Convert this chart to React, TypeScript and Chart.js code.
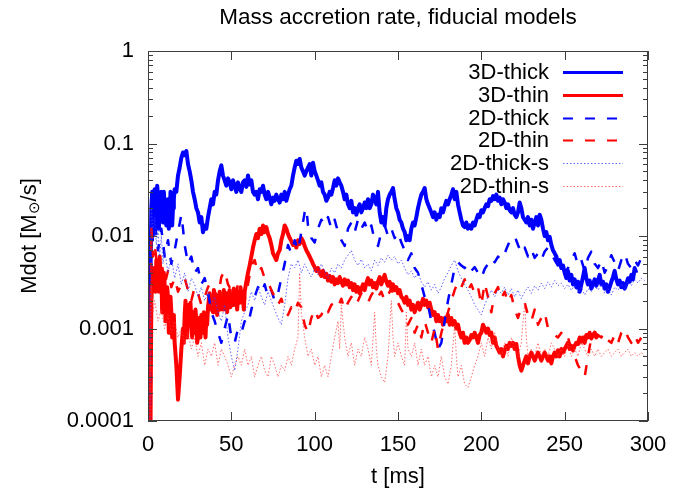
import React, { useEffect, useRef } from "react";
import { Chart, registerables } from "chart.js";

Chart.register(...registerables);

const TITLE = "Mass accretion rate, fiducial models";
const X_TITLE = "t [ms]";
const Y_TITLE_PARTS = ["Mdot [M", "\u2299", "/s]"];
const X_TICKS = [0, 50, 100, 150, 200, 250, 300];
const Y_TICK_VALUES = [0.0001, 0.001, 0.01, 0.1, 1];
const Y_TICK_LABELS = ["0.0001", "0.001", "0.01", "0.1", "1"];
const SERIES_NAMES = ["3D-thick", "3D-thin", "2D-thick", "2D-thin", "2D-thick-s", "2D-thin-s"];

// [t (ms), Mdot (Msun/s)]
const thick3D: [number, number][] = [
  [0, 0.00005], [1, 0.00008], [1.5, 0.004], [2, 0.02], [2.5, 0.03], [3, 0.012], [3.5, 0.025], [4, 0.032], [4.5, 0.012], [5, 0.015],
  [5.5, 0.035], [6, 0.028], [6.5, 0.012], [7, 0.018], [7.5, 0.025], [8, 0.03], [8.5, 0.02], [9, 0.014], [9.5, 0.03], [10, 0.022],
  [10.5, 0.018], [11, 0.013], [11.5, 0.016], [12, 0.025], [12.5, 0.012], [13, 0.015], [13.5, 0.03], [14, 0.028], [14.5, 0.013], [15, 0.02],
  [15.5, 0.025], [16, 0.032], [17, 0.03], [18, 0.045],
  [19, 0.055], [20, 0.07], [21, 0.08], [22, 0.075], [23, 0.083], [24, 0.06], [25, 0.05], [26, 0.04], [27, 0.03], [28, 0.025],
  [29, 0.02], [30, 0.018], [31, 0.014], [32, 0.016], [33, 0.011], [34, 0.013], [35, 0.012], [36, 0.016], [37, 0.02], [38, 0.025],
  [39, 0.022], [40, 0.03], [41, 0.028], [42, 0.04], [43, 0.05], [44, 0.058], [45, 0.045], [46, 0.04], [47, 0.035], [48, 0.042],
  [49, 0.038], [50, 0.032], [51, 0.04], [52, 0.035], [53, 0.03], [54, 0.038], [55, 0.033], [56, 0.03], [57, 0.038], [58, 0.04],
  [59, 0.034], [60, 0.045], [61, 0.036], [62, 0.04], [63, 0.03], [64, 0.028], [65, 0.03], [66, 0.025], [67, 0.032], [68, 0.03],
  [69, 0.035], [70, 0.028], [71, 0.025], [72, 0.03], [73, 0.026], [74, 0.022], [75, 0.026], [76, 0.024], [77, 0.028], [78, 0.025],
  [79, 0.023], [80, 0.028], [81, 0.025], [82, 0.03], [83, 0.024], [84, 0.028], [85, 0.032], [86, 0.035], [87, 0.045], [88, 0.055],
  [89, 0.065], [90, 0.06], [91, 0.068], [92, 0.055], [93, 0.05], [94, 0.045], [95, 0.05], [96, 0.055], [97, 0.06], [98, 0.045],
  [99, 0.062], [100, 0.05], [101, 0.045], [102, 0.04], [103, 0.035], [104, 0.038], [105, 0.03], [106, 0.028], [107, 0.024], [108, 0.026],
  [109, 0.03], [110, 0.028], [111, 0.033], [112, 0.04], [113, 0.035], [114, 0.042], [115, 0.038], [116, 0.035], [117, 0.03], [118, 0.025],
  [119, 0.028], [120, 0.022], [121, 0.02], [122, 0.024], [123, 0.018], [124, 0.02], [125, 0.017], [126, 0.02], [127, 0.022], [128, 0.018],
  [129, 0.02], [130, 0.023], [131, 0.02], [132, 0.025], [133, 0.02], [134, 0.022], [135, 0.028], [136, 0.025], [137, 0.022], [138, 0.03],
  [139, 0.018], [140, 0.014], [141, 0.016], [142, 0.013], [143, 0.02], [144, 0.025], [145, 0.028], [146, 0.03], [147, 0.033], [148, 0.025],
  [149, 0.02], [150, 0.018], [151, 0.015], [152, 0.014], [153, 0.012], [154, 0.011], [155, 0.009], [156, 0.01], [157, 0.009], [158, 0.012],
  [159, 0.014], [160, 0.013], [161, 0.016], [162, 0.02], [163, 0.024], [164, 0.028], [165, 0.03], [166, 0.033], [167, 0.025], [168, 0.022],
  [169, 0.02], [170, 0.018], [171, 0.016], [172, 0.018], [173, 0.015], [174, 0.017], [175, 0.016], [176, 0.02], [177, 0.018], [178, 0.021],
  [179, 0.024], [180, 0.022], [181, 0.025], [182, 0.028], [183, 0.032], [184, 0.025], [185, 0.03], [186, 0.022], [187, 0.018], [188, 0.015],
  [189, 0.013], [190, 0.0125], [191, 0.014], [192, 0.012], [193, 0.013], [194, 0.012], [195, 0.014], [196, 0.013], [197, 0.015], [198, 0.017],
  [199, 0.016], [200, 0.019], [201, 0.018], [202, 0.02], [203, 0.022], [204, 0.021], [205, 0.025], [206, 0.024], [207, 0.027], [208, 0.025],
  [209, 0.028], [210, 0.024], [211, 0.026], [212, 0.022], [213, 0.025], [214, 0.023], [215, 0.02], [216, 0.022], [217, 0.019], [218, 0.018],
  [219, 0.02], [220, 0.017], [221, 0.016], [222, 0.018], [223, 0.023], [224, 0.02], [225, 0.016], [226, 0.015], [227, 0.014], [228, 0.016],
  [229, 0.013], [230, 0.015], [231, 0.012], [232, 0.014], [233, 0.016], [234, 0.013], [235, 0.017], [236, 0.015], [237, 0.012], [238, 0.01],
  [239, 0.011], [240, 0.009], [241, 0.0098], [242, 0.008], [243, 0.007], [244, 0.0065], [245, 0.006], [246, 0.005], [247, 0.0055], [248, 0.0045],
  [249, 0.0048], [250, 0.004], [251, 0.0035], [252, 0.0042], [253, 0.0033], [254, 0.0038], [255, 0.003], [256, 0.0034], [257, 0.0028], [258, 0.0032],
  [259, 0.0025], [260, 0.003], [261, 0.0036], [262, 0.0045], [263, 0.0035], [264, 0.003], [265, 0.0033], [266, 0.0027], [267, 0.003], [268, 0.0034],
  [269, 0.0029], [270, 0.0033], [271, 0.0038], [272, 0.003], [273, 0.0032], [274, 0.0027], [275, 0.003], [276, 0.0025], [277, 0.0028], [278, 0.0032],
  [279, 0.0036], [280, 0.0042], [281, 0.0034], [282, 0.003], [283, 0.0033], [284, 0.0028], [285, 0.0031], [286, 0.0027], [287, 0.003], [288, 0.0035],
  [289, 0.0032], [290, 0.0038], [291, 0.0034], [292, 0.0045], [293, 0.004],
];

const thin3D: [number, number][] = [
  [0, 0.00005], [1.5, 0.00008], [2, 0.002], [3, 0.0045], [4, 0.003], [4.5, 0.0025], [5, 0.0055], [5.5, 0.003], [6, 0.0045], [6.5, 0.0025],
  [7, 0.006], [7.5, 0.0035], [8, 0.004], [8.5, 0.0015], [9, 0.0025], [9.5, 0.004], [10, 0.003], [10.5, 0.0012], [11, 0.0018], [11.5, 0.0028],
  [12, 0.0022], [12.5, 0.0009], [13, 0.0012], [13.5, 0.0022], [14, 0.0015], [14.5, 0.0008], [15, 0.001], [15.5, 0.0014], [16, 0.0007], [17, 0.0004],
  [18, 0.00017], [19, 0.0003], [20, 0.0006], [21, 0.001], [21.5, 0.0007], [22, 0.0014], [22.5, 0.002], [23, 0.0012], [23.5, 0.0008], [24, 0.0018],
  [24.5, 0.0011], [25, 0.0013], [25.5, 0.0019], [26, 0.0011], [26.5, 0.0008], [27, 0.0015], [27.5, 0.0013], [28, 0.0009], [28.5, 0.0016], [29, 0.0012],
  [29.5, 0.0007], [30, 0.0008], [30.5, 0.0013], [31, 0.001], [31.5, 0.0008], [32, 0.0014], [32.5, 0.0011], [33, 0.0009], [33.5, 0.0015], [34, 0.0011],
  [34.5, 0.0008], [35, 0.0013], [35.5, 0.0011], [36, 0.0017], [37, 0.0024], [37.5, 0.0016], [38, 0.002], [39, 0.0015], [39.5, 0.0026], [40, 0.0018],
  [41, 0.0022], [41.5, 0.0014], [42, 0.0019], [43, 0.0025], [43.5, 0.0016], [44, 0.002], [45, 0.0016], [45.5, 0.0026], [46, 0.0019], [47, 0.0024],
  [47.5, 0.0015], [48, 0.002], [49, 0.0026], [49.5, 0.0017], [50, 0.0022], [51, 0.0018], [51.5, 0.0027], [52, 0.0021], [53, 0.0026], [53.5, 0.0016],
  [54, 0.0022], [55, 0.0019], [55.5, 0.0028], [56, 0.0023], [57, 0.002], [57.5, 0.0016], [58, 0.0025], [59, 0.0032],
  [60, 0.004], [61, 0.0048], [62, 0.006], [63, 0.0075], [64, 0.009], [65, 0.0105], [66, 0.0095], [67, 0.012], [68, 0.0105], [69, 0.013],
  [70, 0.011], [71, 0.0125], [72, 0.0105], [73, 0.0095], [74, 0.008], [75, 0.0065], [76, 0.006], [77, 0.0055], [78, 0.0065], [79, 0.007],
  [80, 0.009], [81, 0.0105], [82, 0.013], [83, 0.012], [84, 0.0105], [85, 0.0095], [86, 0.0088], [87, 0.008], [88, 0.0085], [89, 0.0075],
  [90, 0.009], [91, 0.0082], [92, 0.0095], [93, 0.0088], [94, 0.0078], [95, 0.007], [96, 0.0065], [97, 0.006], [98, 0.0055], [99, 0.005],
  [100, 0.0046], [101, 0.0042], [102, 0.0045], [103, 0.004], [104, 0.0037], [105, 0.0042], [106, 0.0036], [107, 0.0039], [108, 0.0033], [109, 0.0037],
  [110, 0.0032], [111, 0.0036], [112, 0.003], [113, 0.0034], [114, 0.0031], [115, 0.0036], [116, 0.0032], [117, 0.0029], [118, 0.0034], [119, 0.003],
  [120, 0.0033], [121, 0.0028], [122, 0.0031], [123, 0.0026], [124, 0.003], [125, 0.0025], [126, 0.0028], [127, 0.0024], [128, 0.0027], [129, 0.003],
  [130, 0.0026], [131, 0.0031], [132, 0.0035], [133, 0.003], [134, 0.0033], [135, 0.0028], [136, 0.0031], [137, 0.0027], [138, 0.0032], [139, 0.0036],
  [140, 0.003], [141, 0.0034], [142, 0.0038], [143, 0.0032], [144, 0.0029], [145, 0.0032], [146, 0.0027], [147, 0.003], [148, 0.0026], [149, 0.0028],
  [150, 0.0024], [151, 0.0026], [152, 0.0022], [153, 0.0021], [154, 0.0019], [155, 0.0022], [156, 0.0018], [157, 0.002], [158, 0.0016], [159, 0.0018],
  [160, 0.0015], [161, 0.0017], [162, 0.0019], [163, 0.0016], [164, 0.0018], [165, 0.0021], [166, 0.0018], [167, 0.002], [168, 0.0017], [169, 0.0019],
  [170, 0.0016], [171, 0.0014], [172, 0.0015], [173, 0.0012], [174, 0.0014], [175, 0.0012], [176, 0.0013], [177, 0.0011], [178, 0.0013], [179, 0.0012],
  [180, 0.0014], [181, 0.0011], [182, 0.0013], [183, 0.0011], [184, 0.0012], [185, 0.001], [186, 0.0011], [187, 0.0009], [188, 0.0008], [189, 0.0009],
  [190, 0.0007], [191, 0.0008], [192, 0.0007], [193, 0.00075], [194, 0.00085], [195, 0.0008], [196, 0.0009], [197, 0.0008], [198, 0.0007], [199, 0.00085],
  [200, 0.0009], [201, 0.0011], [202, 0.001], [203, 0.0009], [204, 0.001], [205, 0.00085], [206, 0.0009], [207, 0.0007], [208, 0.0008], [209, 0.00065],
  [210, 0.0006], [211, 0.00055], [212, 0.0006], [213, 0.0005], [214, 0.00058], [215, 0.00065], [216, 0.0006], [217, 0.0007], [218, 0.00065], [219, 0.0007],
  [220, 0.0006], [221, 0.00068], [222, 0.0005], [223, 0.0004], [224, 0.00035], [225, 0.0004], [226, 0.00045], [227, 0.0005], [228, 0.00042], [229, 0.0005],
  [230, 0.00055], [231, 0.0005], [232, 0.00045], [233, 0.0005], [234, 0.00055], [235, 0.0005], [236, 0.00045], [237, 0.0005], [238, 0.00055], [239, 0.0005],
  [240, 0.00045], [241, 0.0005], [242, 0.00042], [243, 0.0005], [244, 0.00055], [245, 0.0005], [246, 0.00058], [247, 0.0005], [248, 0.0006], [249, 0.00055],
  [250, 0.0006], [251, 0.00065], [252, 0.0007], [253, 0.0006], [254, 0.00065], [255, 0.00058], [256, 0.00065], [257, 0.0007], [258, 0.00068], [259, 0.0008],
  [260, 0.00072], [261, 0.0008], [262, 0.0007], [263, 0.00085], [264, 0.0008], [265, 0.0009], [266, 0.00078], [267, 0.00085], [268, 0.0009], [269, 0.0008],
  [270, 0.00085],
];

const thick2D: [number, number][] = [
  [1, 0.00005], [2, 0.02], [3, 0.008], [4, 0.015], [6, 0.007], [8, 0.012], [10, 0.006], [12, 0.009], [14, 0.005], [16, 0.007],
  [18, 0.011], [20, 0.017], [21, 0.012], [22, 0.008], [24, 0.005], [26, 0.006], [28, 0.004], [30, 0.0045], [32, 0.003], [34, 0.0035],
  [36, 0.0025], [38, 0.0015], [40, 0.0012], [42, 0.0009], [44, 0.0007], [46, 0.001], [48, 0.0014], [50, 0.0008], [52, 0.0007], [54, 0.001],
  [56, 0.0009], [58, 0.0012], [60, 0.0011], [62, 0.0016], [64, 0.0022], [66, 0.0028], [68, 0.0024], [70, 0.003], [72, 0.0022], [74, 0.0026],
  [76, 0.002], [78, 0.0024], [80, 0.0035], [82, 0.005], [84, 0.008], [86, 0.0065], [88, 0.009], [90, 0.007], [92, 0.011], [94, 0.018],
  [95, 0.02], [96, 0.013], [98, 0.0095], [100, 0.0085], [102, 0.012], [104, 0.015], [106, 0.013], [108, 0.016], [110, 0.012], [112, 0.015],
  [114, 0.011], [116, 0.009], [118, 0.0078], [120, 0.012], [122, 0.014], [124, 0.011], [126, 0.015], [128, 0.012], [130, 0.014], [132, 0.011],
  [134, 0.013], [136, 0.009], [138, 0.0078], [140, 0.011], [142, 0.013], [144, 0.01], [146, 0.012], [148, 0.0095], [150, 0.011], [152, 0.0085],
  [154, 0.007], [156, 0.0055], [158, 0.0065], [160, 0.0045], [162, 0.004], [164, 0.003], [166, 0.0022], [168, 0.0018], [170, 0.0012], [172, 0.0009],
  [174, 0.0006], [176, 0.0007], [178, 0.0012], [180, 0.002], [182, 0.003], [184, 0.0045], [186, 0.0052], [188, 0.0048], [190, 0.0045], [192, 0.005],
  [194, 0.0042], [196, 0.0046], [198, 0.004], [200, 0.0035], [202, 0.0044], [204, 0.005], [206, 0.0058], [208, 0.0052], [210, 0.006], [212, 0.0055],
  [214, 0.0065], [216, 0.008], [218, 0.0095], [220, 0.01], [222, 0.008], [224, 0.0065], [226, 0.0075], [228, 0.006], [230, 0.0072], [232, 0.0058],
  [234, 0.0065], [236, 0.0055], [238, 0.0068], [240, 0.0075], [242, 0.0065], [244, 0.0055], [246, 0.0048], [248, 0.0052], [250, 0.004], [252, 0.0045],
  [254, 0.0055], [256, 0.0065], [258, 0.0048], [260, 0.0055], [262, 0.0042], [264, 0.0058], [266, 0.0068], [268, 0.005], [270, 0.0045], [272, 0.0055],
  [274, 0.004], [276, 0.0048], [278, 0.0062], [280, 0.0052], [282, 0.0042], [284, 0.0055], [286, 0.0065], [288, 0.005], [290, 0.0045], [292, 0.0055],
  [294, 0.0048], [296, 0.0058], [298, 0.0052],
];

const thin2D: [number, number][] = [
  [1, 0.00005], [2, 0.012], [3, 0.006], [4, 0.008], [6, 0.004], [8, 0.0055], [10, 0.003], [12, 0.0042], [14, 0.0028], [16, 0.0035],
  [18, 0.0025], [20, 0.003], [22, 0.0035], [24, 0.0026], [26, 0.002], [28, 0.0028], [30, 0.0024], [32, 0.0018], [34, 0.0022], [36, 0.0028],
  [38, 0.0032], [40, 0.0025], [42, 0.0022], [44, 0.0036], [46, 0.0042], [48, 0.003], [50, 0.0026], [52, 0.0022], [54, 0.003], [56, 0.0025],
  [58, 0.002], [60, 0.003], [62, 0.0048], [64, 0.0055], [66, 0.004], [68, 0.0045], [70, 0.0035], [72, 0.0032], [74, 0.0026], [76, 0.0022],
  [78, 0.0018], [80, 0.0021], [82, 0.0016], [84, 0.0014], [86, 0.0017], [88, 0.0015], [90, 0.0019], [92, 0.0017], [94, 0.0011], [96, 0.0009],
  [98, 0.0013], [100, 0.0016], [102, 0.0013], [104, 0.0014], [106, 0.0017], [108, 0.0015], [110, 0.0018], [112, 0.0019], [114, 0.0017], [116, 0.0021],
  [118, 0.0016], [120, 0.0019], [122, 0.0022], [124, 0.0018], [126, 0.002], [128, 0.0024], [130, 0.0021], [132, 0.0019], [134, 0.0023], [136, 0.0026],
  [138, 0.0022], [140, 0.0025], [142, 0.002], [144, 0.0023], [146, 0.0027], [148, 0.0021], [150, 0.0019], [152, 0.0016], [154, 0.0014], [156, 0.0011],
  [158, 0.0013], [160, 0.0009], [162, 0.0011], [164, 0.0008], [166, 0.0012], [168, 0.0009], [170, 0.0007], [172, 0.001], [174, 0.0006], [176, 0.0009],
  [178, 0.0012], [180, 0.0015], [182, 0.002], [184, 0.0026], [186, 0.0032], [188, 0.0028], [190, 0.0034], [192, 0.0026], [194, 0.003], [196, 0.0024],
  [198, 0.0028], [200, 0.0018], [202, 0.0031], [204, 0.0022], [206, 0.0015], [208, 0.0024], [210, 0.0028], [212, 0.0021], [214, 0.0025], [216, 0.0019],
  [218, 0.0023], [220, 0.0016], [222, 0.0013], [224, 0.0017], [226, 0.0019], [228, 0.0014], [230, 0.0012], [232, 0.0016], [234, 0.0011], [236, 0.0013],
  [238, 0.0015], [240, 0.001], [242, 0.0009], [244, 0.00085], [246, 0.0008], [248, 0.0009], [250, 0.00075], [252, 0.0008], [254, 0.0006], [256, 0.0005],
  [258, 0.0004], [260, 0.00035], [262, 0.0003], [264, 0.0005], [266, 0.0008], [268, 0.0009], [270, 0.00085], [272, 0.0008], [274, 0.0009], [276, 0.00075],
  [278, 0.0007], [280, 0.00085], [282, 0.0007], [284, 0.0009], [286, 0.001], [288, 0.0008], [290, 0.0007], [292, 0.00085], [294, 0.0007], [296, 0.0008],
  [298, 0.00075],
];

const thick2Ds: [number, number][] = [
  [1, 0.00005], [2, 0.02], [3, 0.012], [4, 0.016], [5, 0.008], [6, 0.012], [7, 0.006], [8, 0.01], [9, 0.005], [10, 0.007],
  [12, 0.004], [14, 0.006], [16, 0.0035], [18, 0.005], [20, 0.003], [22, 0.004], [24, 0.0025], [26, 0.0035], [28, 0.003], [30, 0.0022],
  [32, 0.0028], [34, 0.002], [36, 0.0025], [38, 0.0018], [40, 0.0022], [42, 0.0015], [44, 0.0012], [46, 0.0018], [48, 0.0008], [50, 0.0005],
  [52, 0.00035], [54, 0.0006], [56, 0.0012], [58, 0.0015], [60, 0.0018], [62, 0.0025], [64, 0.002], [66, 0.0028], [68, 0.0022], [70, 0.0018],
  [72, 0.0025], [74, 0.002], [76, 0.0016], [78, 0.0013], [80, 0.0011], [82, 0.0018], [84, 0.0035], [86, 0.005], [88, 0.0045], [90, 0.0055],
  [92, 0.004], [94, 0.005], [96, 0.0042], [98, 0.0036], [100, 0.0045], [102, 0.0038], [104, 0.005], [106, 0.0042], [108, 0.0035], [110, 0.0045],
  [112, 0.004], [114, 0.005], [116, 0.0045], [118, 0.0055], [120, 0.0062], [122, 0.007], [124, 0.0055], [126, 0.0048], [128, 0.0056], [130, 0.0045],
  [132, 0.005], [134, 0.0042], [136, 0.0055], [138, 0.0048], [140, 0.0058], [142, 0.0052], [144, 0.0062], [146, 0.0055], [148, 0.006], [150, 0.005],
  [152, 0.0055], [154, 0.0045], [156, 0.0038], [158, 0.0042], [160, 0.0035], [162, 0.004], [164, 0.0032], [166, 0.0028], [168, 0.0032], [170, 0.0026],
  [172, 0.003], [174, 0.0024], [176, 0.0028], [178, 0.0035], [180, 0.004], [182, 0.0048], [184, 0.0055], [186, 0.0042], [188, 0.0035], [190, 0.003],
  [192, 0.0026], [194, 0.0022], [196, 0.0018], [198, 0.0016], [200, 0.0014], [202, 0.0018], [204, 0.0022], [206, 0.0026], [208, 0.0022], [210, 0.0026],
  [212, 0.0024], [214, 0.0028], [216, 0.0023], [218, 0.0027], [220, 0.0022], [222, 0.0026], [224, 0.0021], [226, 0.0025], [228, 0.0028], [230, 0.0024],
  [232, 0.0029], [234, 0.0026], [236, 0.0031], [238, 0.0027], [240, 0.0032], [242, 0.0028], [244, 0.0033], [246, 0.0029], [248, 0.0031], [250, 0.0027],
  [252, 0.003], [254, 0.0026], [256, 0.0029], [258, 0.0024], [260, 0.0028], [262, 0.0023], [264, 0.0027], [266, 0.0025], [268, 0.0029], [270, 0.0026],
  [272, 0.003], [274, 0.0024], [276, 0.0027], [278, 0.0023], [280, 0.0028], [282, 0.0026], [284, 0.003], [286, 0.0027], [288, 0.0032], [290, 0.0029],
  [292, 0.0034], [294, 0.0031], [296, 0.0035], [298, 0.0033],
];

const thin2Ds: [number, number][] = [
  [1, 0.00005], [2, 0.003], [3, 0.0015], [4, 0.002], [6, 0.0012], [8, 0.0016], [10, 0.001], [12, 0.0014], [14, 0.0009], [16, 0.0012],
  [18, 0.0008], [20, 0.001], [22, 0.0007], [24, 0.0009], [26, 0.0006], [28, 0.0008], [30, 0.0005], [32, 0.0007], [34, 0.0004], [36, 0.0006],
  [38, 0.0005], [40, 0.0007], [42, 0.0004], [44, 0.0006], [46, 0.0005], [48, 0.0004], [50, 0.0003], [52, 0.0004], [54, 0.0005], [56, 0.0004],
  [58, 0.0006], [60, 0.0004], [62, 0.0005], [64, 0.0003], [66, 0.0004], [68, 0.0005], [70, 0.00035], [72, 0.0003], [74, 0.0005], [76, 0.0004],
  [78, 0.0003], [80, 0.0004], [82, 0.00035], [84, 0.0005], [86, 0.0004], [88, 0.0006], [90, 0.0008], [91, 0.004], [92, 0.0015], [94, 0.0008],
  [96, 0.0005], [98, 0.0006], [100, 0.0004], [102, 0.0005], [104, 0.0003], [106, 0.0004], [108, 0.0003], [110, 0.0005], [112, 0.0008], [114, 0.0012],
  [115, 0.0006], [116, 0.0018], [118, 0.0008], [120, 0.0005], [122, 0.0007], [124, 0.0004], [126, 0.0006], [128, 0.0005], [130, 0.0008], [132, 0.0006],
  [134, 0.0004], [136, 0.0015], [137, 0.0006], [138, 0.0004], [140, 0.0003], [142, 0.00026], [144, 0.0005], [146, 0.002], [147, 0.0008], [148, 0.0005],
  [150, 0.0007], [152, 0.0005], [154, 0.0004], [155, 0.0015], [156, 0.0006], [158, 0.0005], [160, 0.0007], [162, 0.0004], [164, 0.0006], [166, 0.0004],
  [168, 0.0005], [170, 0.0003], [172, 0.0004], [174, 0.0003], [176, 0.0005], [178, 0.0003], [180, 0.00025], [182, 0.0004], [184, 0.0011], [185, 0.0005],
  [186, 0.0003], [188, 0.0004], [190, 0.00025], [192, 0.00023], [194, 0.0003], [196, 0.0004], [198, 0.0005], [200, 0.0007], [202, 0.0005], [204, 0.0008],
  [206, 0.0006], [208, 0.0009], [210, 0.0006], [212, 0.0005], [214, 0.0007], [216, 0.0005], [218, 0.0008], [220, 0.0006], [222, 0.0005], [224, 0.0007],
  [226, 0.0019], [227, 0.0008], [228, 0.0005], [230, 0.0006], [232, 0.0005], [234, 0.0007], [236, 0.0005], [238, 0.0006], [240, 0.0005], [242, 0.0007],
  [244, 0.0006], [246, 0.0005], [248, 0.0006], [250, 0.0005], [252, 0.0007], [254, 0.0005], [256, 0.0006], [258, 0.0005], [260, 0.0007], [262, 0.0006],
  [264, 0.0005], [266, 0.0006], [268, 0.0005], [270, 0.0006], [272, 0.0005], [274, 0.00055], [276, 0.0006], [278, 0.0005], [280, 0.00055], [282, 0.0006],
  [284, 0.0005], [286, 0.00055], [288, 0.0006], [290, 0.0005], [292, 0.00055], [294, 0.0005], [296, 0.00055], [298, 0.0005],
];

const SERIES_DATA = [thick3D, thin3D, thick2D, thin2D, thick2Ds, thin2Ds];

// styles (kept separate from data)
const STYLES = [
  { color: "#0000ff", width: 4, legendWidth: 3, dash: [] as number[] },
  { color: "#ff0000", width: 4, legendWidth: 3, dash: [] as number[] },
  { color: "#0000ff", width: 2.5, legendWidth: 2, dash: [10, 12] },
  { color: "#ff0000", width: 2.5, legendWidth: 2, dash: [10, 12] },
  { color: "rgba(60,60,255,0.8)", width: 1, legendWidth: 1, dash: [1.5, 2] },
  { color: "rgba(255,60,60,0.75)", width: 1, legendWidth: 1, dash: [1.5, 2] },
];

const FONT = '"Liberation Sans", Arial, Helvetica, sans-serif';
const FONT_SIZE = 22;

const decorPlugin = {
  id: "gnuplotDecor",
  afterDatasetsDraw(chart: any) {
    const { ctx, chartArea: a, scales } = chart;
    const xs = scales.x;
    const ys = scales.y;
    ctx.save();
    // frame
    ctx.strokeStyle = "#3c3c3c";
    ctx.lineWidth = 1;
    ctx.setLineDash([]);
    ctx.strokeRect(Math.round(a.left) + 0.5, Math.round(a.top) + 0.5, Math.round(a.right - a.left) - 1, Math.round(a.bottom - a.top) - 1);
    // y ticks (major + minor) on both sides, inward
    ctx.beginPath();
    for (let e = -4; e <= 0; e++) {
      for (let k = 1; k <= 9; k++) {
        const v = k * Math.pow(10, e);
        if (v > 1.0000001) break;
        const y = Math.round(ys.getPixelForValue(v)) + 0.5;
        const len = k === 1 ? 9 : 5;
        ctx.moveTo(a.left, y);
        ctx.lineTo(a.left + len, y);
        ctx.moveTo(a.right, y);
        ctx.lineTo(a.right - len, y);
      }
    }
    // x ticks top and bottom, inward
    for (const t of X_TICKS) {
      const x = Math.round(xs.getPixelForValue(t)) + 0.5;
      ctx.moveTo(x, a.bottom);
      ctx.lineTo(x, a.bottom - 9);
      ctx.moveTo(x, a.top);
      ctx.lineTo(x, a.top + 9);
    }
    ctx.stroke();

    // legend
    ctx.font = `${FONT_SIZE}px ${FONT}`;
    ctx.fillStyle = "#000";
    ctx.textAlign = "right";
    ctx.textBaseline = "middle";
    const rowY0 = 72;
    const rowDy = 22.8;
    SERIES_NAMES.forEach((name, i) => {
      const y = rowY0 + i * rowDy;
      ctx.fillText(name, 549, y + 1);
      const st = STYLES[i];
      ctx.strokeStyle = st.color;
      ctx.lineWidth = st.legendWidth;
      ctx.setLineDash(st.dash);
      ctx.beginPath();
      ctx.moveTo(563, Math.round(y) + 0.5);
      ctx.lineTo(623, Math.round(y) + 0.5);
      ctx.stroke();
    });
    ctx.setLineDash([]);

    // title
    ctx.textAlign = "center";
    ctx.textBaseline = "middle";
    ctx.font = `${FONT_SIZE + 0.5}px ${FONT}`;
    ctx.fillText(TITLE, (a.left + a.right) / 2, 18);

    // x title
    ctx.font = `${FONT_SIZE}px ${FONT}`;
    ctx.fillText(X_TITLE, (a.left + a.right) / 2, 477);

    // y title with subscript
    ctx.save();
    ctx.translate(30, (a.top + a.bottom) / 2);
    ctx.rotate(-Math.PI / 2);
    ctx.textAlign = "left";
    const mainFont = `${FONT_SIZE}px ${FONT}`;
    const subFont = `${Math.round(FONT_SIZE * 0.7)}px ${FONT}`;
    ctx.font = mainFont;
    const w1 = ctx.measureText(Y_TITLE_PARTS[0]).width;
    const w3 = ctx.measureText(Y_TITLE_PARTS[2]).width;
    ctx.font = subFont;
    const w2 = ctx.measureText(Y_TITLE_PARTS[1]).width;
    const x0 = -(w1 + w2 + w3) / 2;
    ctx.font = mainFont;
    ctx.fillText(Y_TITLE_PARTS[0], x0, 0);
    ctx.font = subFont;
    ctx.fillText(Y_TITLE_PARTS[1], x0 + w1, 5);
    ctx.font = mainFont;
    ctx.fillText(Y_TITLE_PARTS[2], x0 + w1 + w2, 0);
    ctx.restore();

    ctx.restore();
  },
};

export default function App() {
  const canvasRef = useRef<HTMLCanvasElement | null>(null);

  useEffect(() => {
    document.body.style.margin = "0";
    const canvas = canvasRef.current;
    if (!canvas) return;
    const chart = new Chart(canvas, {
      type: "line",
      data: {
        datasets: SERIES_NAMES.map((name, i) => ({
          label: name,
          data: SERIES_DATA[i].map(([x, y]) => ({ x, y })),
          borderColor: STYLES[i].color,
          borderWidth: STYLES[i].width,
          borderDash: STYLES[i].dash,
          borderJoinStyle: "round" as const,
          borderCapStyle: "butt" as const,
          pointRadius: 0,
          tension: 0,
          fill: false,
          order: SERIES_NAMES.length - i,
        })),
      },
      options: {
        animation: false,
        responsive: true,
        maintainAspectRatio: false,
        events: [],
        layout: { padding: { left: 0, right: 46, top: 51, bottom: 0 } },
        plugins: {
          legend: { display: false },
          title: { display: false },
          tooltip: { enabled: false },
        },
        scales: {
          x: {
            type: "linear",
            min: 0,
            max: 300,
            grid: { display: false, drawTicks: false },
            border: { display: false },
            ticks: {
              stepSize: 50,
              padding: 11,
              color: "#000",
              font: { family: FONT, size: FONT_SIZE },
              maxRotation: 0,
              autoSkip: false,
            },
            afterFit: (scale: any) => {
              scale.height = 74;
            },
          },
          y: {
            type: "logarithmic",
            min: 0.0001,
            max: 1,
            grid: { display: false, drawTicks: false },
            border: { display: false },
            afterBuildTicks: (scale: any) => {
              scale.ticks = Y_TICK_VALUES.map((v) => ({ value: v }));
            },
            ticks: {
              padding: 14,
              color: "#000",
              font: { family: FONT, size: FONT_SIZE },
              autoSkip: false,
              callback: (value: any) => {
                const idx = Y_TICK_VALUES.findIndex((v) => Math.abs(v - Number(value)) < v * 1e-6);
                return idx >= 0 ? Y_TICK_LABELS[idx] : "";
              },
            },
            afterFit: (scale: any) => {
              scale.width = 148;
            },
          },
        },
      },
      plugins: [decorPlugin],
    });
    return () => chart.destroy();
  }, []);

  return (
    <div style={{ position: "relative", width: 694, height: 495 }}>
      <canvas ref={canvasRef} />
    </div>
  );
}
